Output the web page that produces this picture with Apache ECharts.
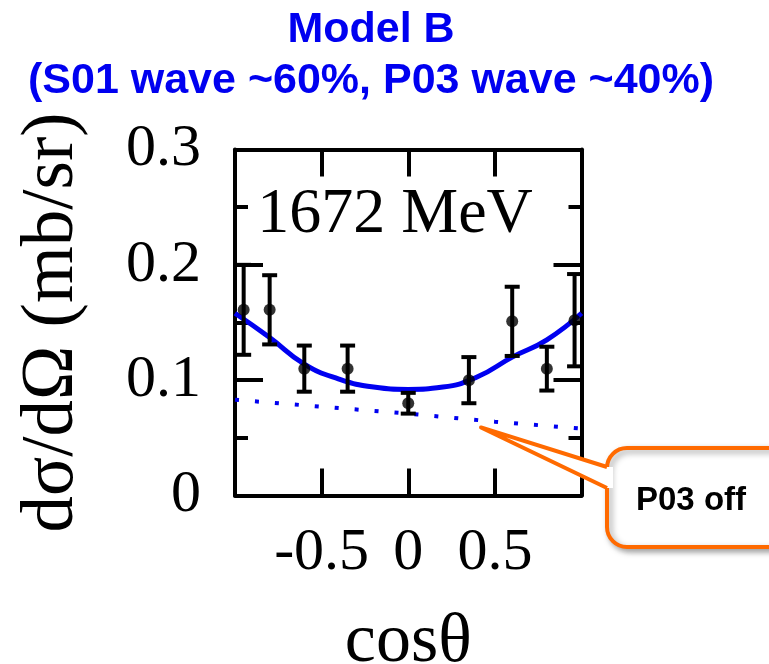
<!DOCTYPE html>
<html>
<head>
<meta charset="utf-8">
<script src="https://cdn.jsdelivr.net/npm/echarts@6/dist/echarts.min.js"></script>
<style>
  html, body { margin: 0; padding: 0; background: #fff; }
  #chart { width: 769px; height: 664px; }
</style>
</head>
<body>
<div id="chart"></div>
<script>
// measured points (cos theta, dsigma/dOmega, error)
const cosTheta = [-0.95, -0.8, -0.6, -0.35, 0, 0.35, 0.6, 0.8, 0.96];
const sigma = [0.161, 0.161, 0.110, 0.110, 0.080, 0.100, 0.151, 0.110, 0.152];
const sigmaErr = [0.039, 0.030, 0.020, 0.020, 0.009, 0.020, 0.030, 0.019, 0.040];

// model B full curve
const fitX = [-1, -0.8, -0.6, -0.4, -0.2, 0, 0.2, 0.4, 0.6, 0.8, 1];
const fitY = [0.158, 0.137, 0.114, 0.101, 0.094, 0.092, 0.094, 0.103, 0.120, 0.135, 0.158];

// P03 off curve
const offX = [-1, -0.5, 0, 0.5, 1];
const offY = [0.083, 0.077, 0.071, 0.064, 0.058];

const xTicks = [-0.5, 0, 0.5];
const yTicks = [0, 0.1, 0.2, 0.3];

const SERIF = '"Liberation Serif", "Times New Roman", serif';
const SANS = '"Liberation Sans", Arial, sans-serif';
const BLUE = '#0000f0';
const ORANGE = '#ff6a00';

const zip = (a, b, c) => a.map((v, i) => (c ? [v, b[i], c[i]] : [v, b[i]]));

const chart = echarts.init(document.getElementById('chart'));

const frameLine = { show: true, onZero: false, lineStyle: { color: '#000', width: 4 } };

function xAxis(position, labels) {
  return {
    type: 'value', position, min: -1, max: 1, interval: 0.5,
    axisLine: frameLine,
    axisTick: { show: true, inside: true, length: 27, lineStyle: { color: '#000', width: 4 } },
    splitLine: { show: false },
    axisLabel: {
      show: labels, margin: 28, color: '#000', fontFamily: SERIF, fontSize: 60,
      formatter: (v) => (xTicks.indexOf(v) >= 0 ? String(v) : '')
    }
  };
}

function yAxis(position, labels) {
  return {
    type: 'value', position, min: 0, max: 0.3, interval: 0.1,
    axisLine: frameLine,
    axisTick: { show: true, inside: true, length: 28, lineStyle: { color: '#000', width: 4 } },
    minorTick: { show: true, splitNumber: 2, length: 13, lineStyle: { color: '#000', width: 4 } },
    splitLine: { show: false },
    axisLabel: {
      show: labels, margin: 34, color: '#000', fontFamily: SERIF, fontSize: 60,
      formatter: (v) => {
        const t = Math.round(v * 10) / 10;
        return yTicks.indexOf(t) >= 0 ? String(t) : '';
      }
    }
  };
}

function errorBars(params, api) {
  const x = api.value(0);
  const y = api.value(1);
  const e = api.value(2);
  const lo = api.coord([x, y - e]);
  const hi = api.coord([x, y + e]);
  const w = 7.5;
  const st = { stroke: '#000', lineWidth: 4 };
  return {
    type: 'group',
    children: [
      { type: 'line', shape: { x1: lo[0], y1: lo[1], x2: hi[0], y2: hi[1] }, style: st },
      { type: 'line', shape: { x1: lo[0] - w, y1: lo[1], x2: lo[0] + w, y2: lo[1] }, style: st },
      { type: 'line', shape: { x1: hi[0] - w, y1: hi[1], x2: hi[0] + w, y2: hi[1] }, style: st }
    ]
  };
}

chart.setOption({
  animation: false,
  grid: { left: 235, right: 187.5, top: 149.5, bottom: 168.5, outerBoundsMode: 'none', containLabel: false },
  xAxis: [
    Object.assign(xAxis('bottom', true), {
      name: 'cosθ', nameLocation: 'middle', nameGap: 112,
      nameTextStyle: { color: '#000', fontFamily: SERIF, fontSize: 70 }
    }),
    xAxis('top', false)
  ],
  yAxis: [
    Object.assign(yAxis('left', true), {
      name: 'dσ/dΩ (mb/sr)', nameLocation: 'middle', nameRotate: 90, nameGap: 146,
      nameTextStyle: { color: '#000', fontFamily: SERIF, fontSize: 73 }
    }),
    yAxis('right', false)
  ],
  series: [
    {
      type: 'line', data: zip(offX, offY), showSymbol: false, z: 2,
      lineStyle: { color: BLUE, width: 4, type: [4, 16], cap: 'butt' }
    },
    {
      type: 'line', data: zip(fitX, fitY), smooth: true, showSymbol: false, z: 3,
      lineStyle: { color: BLUE, width: 5 }
    },
    {
      type: 'custom', data: zip(cosTheta, sigma, sigmaErr), renderItem: errorBars, z: 4
    },
    {
      type: 'scatter', data: zip(cosTheta, sigma), symbolSize: 12, z: 5,
      itemStyle: { color: '#000' }
    }
  ]
});

// annotations: title, energy label and the "P03 off" callout
const tip = chart.convertToPixel({ gridIndex: 0 }, [0.42, 0.059]);
const bx = 607, by = 448;
const base1 = [bx, 467], base2 = [bx, 488];

chart.setOption({
  graphic: [
    {
      type: 'text', x: 371, y: 5,
      style: {
        text: 'Model B\n(S01 wave ~60%, P03 wave ~40%)',
        align: 'center', verticalAlign: 'top', lineHeight: 51,
        font: 'bold 43px ' + SANS, fill: BLUE
      }
    },
    {
      type: 'text', x: 395, y: 215,
      style: {
        text: '1672 MeV', align: 'center', verticalAlign: 'middle',
        font: '64px ' + SERIF, fill: '#000'
      }
    },
    {
      type: 'rect', z: 10,
      shape: { x: bx, y: by, width: 200, height: 99, r: 20 },
      style: {
        fill: '#fff', stroke: ORANGE, lineWidth: 4,
        shadowBlur: 6, shadowOffsetX: 3, shadowOffsetY: 3, shadowColor: 'rgba(0,0,0,0.35)'
      }
    },
    {
      type: 'polygon', z: 11,
      shape: { points: [base1, tip, base2, [bx + 6, base2[1]], [bx + 6, base1[1]]] },
      style: { fill: '#fff' }
    },
    {
      type: 'polyline', z: 12,
      shape: { points: [base1, tip, base2] },
      style: { stroke: ORANGE, lineWidth: 4, lineJoin: 'round', fill: null }
    },
    {
      type: 'text', x: 636, y: 501, z: 13,
      style: {
        text: 'P03 off', align: 'left', verticalAlign: 'middle',
        font: 'bold 33px ' + SANS, fill: '#000'
      }
    }
  ]
});
</script>
</body>
</html>
